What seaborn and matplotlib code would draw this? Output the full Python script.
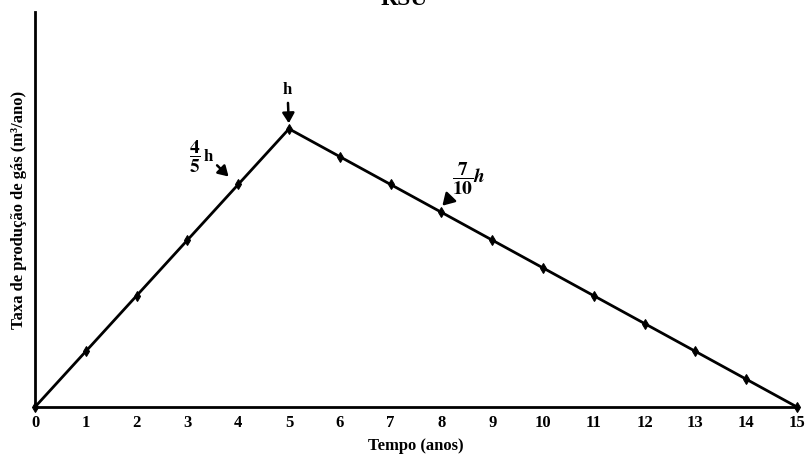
import matplotlib
matplotlib.use("Agg")
import matplotlib.pyplot as plt
import seaborn as sns
import pandas as pd

anos = list(range(16))
taxa = [0.0, 0.2, 0.4, 0.6, 0.8, 1.0, 0.9, 0.8, 0.7, 0.6, 0.5, 0.4, 0.3, 0.2, 0.1, 0.0]
tick_labels = [str(a) for a in anos]

sns.set_style("white")
plt.rcParams['font.family'] = ['Liberation Serif', 'DejaVu Serif']
plt.rcParams['mathtext.fontset'] = 'stix'
plt.rcParams['text.color'] = 'black'
plt.rcParams['axes.labelcolor'] = 'black'
plt.rcParams['xtick.color'] = 'black'

df = pd.DataFrame({"Tempo": anos, "Taxa": taxa})
fig = plt.figure(figsize=(8.08, 4.59), dpi=100)
ax = fig.add_axes([35/808, 52/459, 762/808, 395/459])
sns.lineplot(data=df, x="Tempo", y="Taxa", ax=ax, color="black", linewidth=2,
             marker="d", markersize=5, markeredgecolor="black", clip_on=False)
ax.set_xlim(0, 15)
ax.set_ylim(0, 1.42)
ax.set_xticks(anos)
ax.set_xticklabels(tick_labels, fontweight="bold", fontsize=12)
ax.set_yticks([])
ax.tick_params(axis="x", direction="out", length=3, width=1.5, color="black", pad=3)
for s in ["top", "right"]:
    ax.spines[s].set_visible(False)
for s in ["left", "bottom"]:
    ax.spines[s].set_color("black")
    ax.spines[s].set_linewidth(2)
ax.set_xlabel("Tempo (anos)", fontweight="bold", fontsize=12, labelpad=5)
ax.set_ylabel("Taxa de produção de gás (m³/ano)", fontweight="bold", fontsize=12, labelpad=6)

fig.text(0.5, 1 - 5/459, "RSU", ha="center", va="baseline", fontweight="bold", fontsize=17)

arrow = dict(arrowstyle="-|>,head_length=0.5,head_width=0.3", color="black", lw=1.8)
ax.annotate("h", xy=(5, 1.0), xytext=(4.97, 1.11), ha="center", va="bottom",
            fontweight="bold", fontsize=12,
            arrowprops=dict(arrow, shrinkA=1, shrinkB=4))
ax.text(3.26, 0.9, r"$\mathbf{\dfrac{4}{5}}$", ha="right", va="center", fontsize=14)
ax.annotate("h", xy=(3.83, 0.825), xytext=(3.5, 0.9), ha="right", va="center",
            fontweight="bold", fontsize=12,
            arrowprops=dict(arrow, shrinkA=1, shrinkB=1))
ax.annotate(r"$\mathbf{\dfrac{7}{10}}\boldsymbol{h}$", xy=(8.0, 0.72), xytext=(8.2, 0.82), ha="left", va="center",
            fontsize=14,
            arrowprops=dict(arrow, shrinkA=1, shrinkB=1))

fig.savefig("out.png", dpi=100)
